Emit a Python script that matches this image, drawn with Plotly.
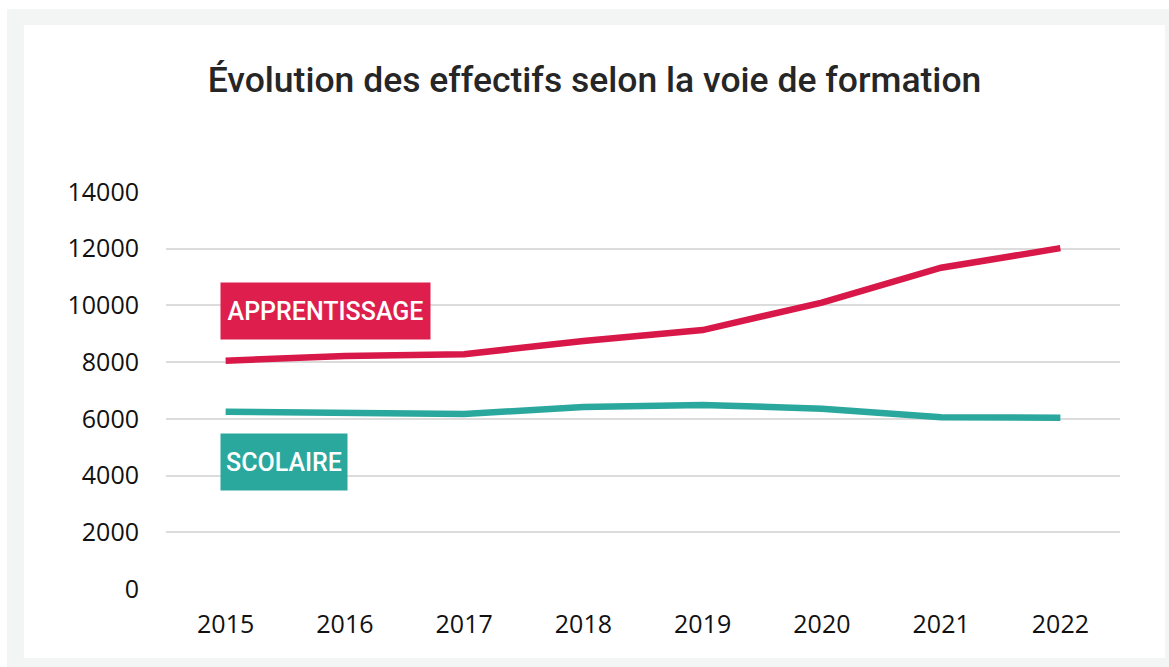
import plotly.graph_objects as go

years = ["2015", "2016", "2017", "2018", "2019", "2020", "2021", "2022"]
apprentissage = [8050, 8215, 8280, 8745, 9130, 10100, 11330, 12020]
scolaire = [6250, 6230, 6170, 6420, 6490, 6360, 6060, 6040]
y_ticks = [0, 2000, 4000, 6000, 8000, 10000, 12000, 14000]
y_tick_labels = ["0", "2000", "4000", "6000", "8000", "10000", "12000", "14000"]

RED_LINE = "#d81848"
RED_BOX = "#de1f4e"
TEAL = "#2ba89e"

fig = go.Figure()
fig.add_trace(go.Scatter(x=years, y=apprentissage, mode="lines", name="APPRENTISSAGE",
                         line=dict(color=RED_LINE, width=6.5)))
fig.add_trace(go.Scatter(x=years, y=scolaire, mode="lines", name="SCOLAIRE",
                         line=dict(color=TEAL, width=6.5)))

# plot area: x 166..1120 px, y 192..589 px
L, R, T, B = 166, 1120, 192, 589
W, H = R - L, B - T

def px(x):
    return (x - L) / W

def py(y):
    return (B - y) / H

fig.add_shape(type="rect", xref="paper", yref="paper", layer="below",
              x0=px(7), x1=px(1169), y0=py(667), y1=py(9),
              fillcolor="#f3f5f4", line=dict(width=0))
fig.add_shape(type="rect", xref="paper", yref="paper", layer="below",
              x0=px(24), x1=px(1165), y0=py(658), y1=py(25),
              fillcolor="#ffffff", line=dict(width=0))

fig.add_annotation(x=0, y=9800, xref="x", yref="y", xanchor="left", yanchor="middle",
                   xshift=-6, text="APPRENTISSAGE", showarrow=False,
                   font=dict(family="Roboto", size=25, color="white", weight=500),
                   bgcolor=RED_BOX, width=203, height=50, borderpad=3)
fig.add_annotation(x=0, y=4480, xref="x", yref="y", xanchor="left", yanchor="middle",
                   xshift=-6, text="SCOLAIRE", showarrow=False,
                   font=dict(family="Roboto", size=25, color="white", weight=500),
                   bgcolor=TEAL, width=120, height=50, borderpad=3)

fig.update_layout(
    width=1169, height=667,
    margin=dict(l=L, r=1169 - R, t=T, b=667 - B, autoexpand=False),
    paper_bgcolor="white", plot_bgcolor="white",
    showlegend=False,
    title=dict(text="Évolution des effectifs selon la voie de formation",
               x=px(594.5), xref="paper", xanchor="center", y=1 - 80 / 667, yanchor="middle",
               font=dict(family="Roboto", size=35.5, color="#262626", weight=500)),
    xaxis=dict(type="category", range=[-0.5, 7.5], showgrid=False, zeroline=False, showline=False,
               tickfont=dict(family="Open Sans", size=25, color="#111"),
               ticks="", ticklabelstandoff=18, automargin=False),
    yaxis=dict(range=[0, 14000], tickvals=y_ticks, ticktext=y_tick_labels, showgrid=True,
               gridcolor="#dcdcdc", gridwidth=1.5, zeroline=False, showline=False,
               tickfont=dict(family="Open Sans", size=25, color="#111"),
               ticks="", ticklabelstandoff=26, automargin=False),
)

fig.write_html("out.html",
               config={"displayModeBar": False},
               post_script="document.body.style.margin='0';document.body.style.padding='0';")
